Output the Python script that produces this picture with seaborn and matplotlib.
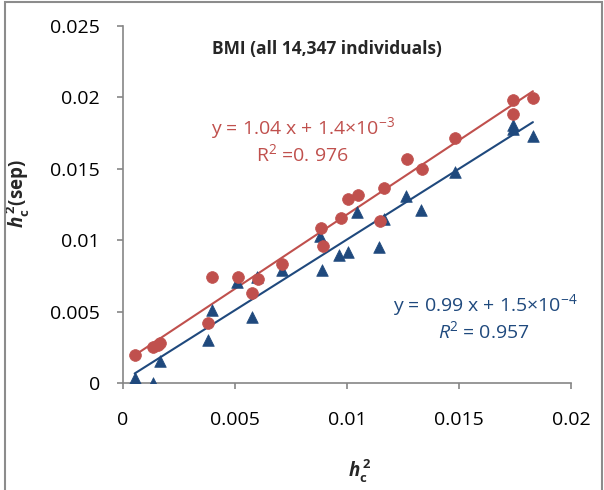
import numpy as np
import pandas as pd
import seaborn as sns
import matplotlib.pyplot as plt
from matplotlib.patches import Rectangle

# values
red_x = [0.00055, 0.00134, 0.00155, 0.00167, 0.0038, 0.00397, 0.00514, 0.00576,
         0.00602, 0.0071, 0.00882, 0.00894, 0.00972, 0.01004, 0.01049, 0.01147,
         0.01166, 0.01267, 0.01334, 0.01484, 0.01742, 0.01742, 0.0183]
red_y = [0.00196, 0.00255, 0.00269, 0.00278, 0.0042, 0.0074, 0.0074, 0.0063,
         0.0073, 0.00834, 0.01084, 0.0096, 0.01157, 0.0129, 0.01318, 0.01133,
         0.01367, 0.0157, 0.015, 0.01715, 0.01984, 0.01883, 0.01998]

blue_x = [0.00052, 0.00132, 0.00165, 0.00378, 0.00396, 0.0051, 0.00576, 0.00597,
          0.0071, 0.0088, 0.00889, 0.00966, 0.01006, 0.01044, 0.01142, 0.01166,
          0.01262, 0.01331, 0.01484, 0.01739, 0.01739, 0.0183]
blue_y = [0.00035, 0.0, 0.00152, 0.003, 0.0051, 0.0071, 0.00465, 0.0074,
          0.0079, 0.01026, 0.0079, 0.00895, 0.00916, 0.01196, 0.0095, 0.0115,
          0.01308, 0.01208, 0.01477, 0.01804, 0.0178, 0.01729]

# fitted lines as given on the chart
red_slope, red_icept = 1.04, 1.4e-3
blue_slope, blue_icept = 0.99, 1.5e-4

x_ticks = [0, 0.005, 0.01, 0.015, 0.02]
y_ticks = [0, 0.005, 0.01, 0.015, 0.02, 0.025]
x_tick_labels = ['0', '0.005', '0.01', '0.015', '0.02']
y_tick_labels = ['0', '0.005', '0.01', '0.015', '0.02', '0.025']

RED = '#C0504D'
BLUE = '#1F497D'
GREY = '#868686'

sns.set_theme(style='white')
plt.rcParams['font.family'] = ['Open Sans', 'DejaVu Sans']
plt.rcParams['mathtext.fontset'] = 'custom'
plt.rcParams['mathtext.rm'] = 'Open Sans'
plt.rcParams['mathtext.it'] = 'Open Sans:italic:bold'
plt.rcParams['mathtext.bf'] = 'Open Sans:bold'
plt.rcParams['mathtext.sf'] = 'Open Sans:italic'

fig = plt.figure(figsize=(6.04, 4.9), dpi=100)
ax = fig.add_axes([123 / 604, 1 - 383 / 490, 448 / 604, 357 / 490])

red_df = pd.DataFrame({'x': red_x, 'y': red_y})
blue_df = pd.DataFrame({'x': blue_x, 'y': blue_y})

# trend lines
rx = np.array([min(red_x), max(red_x)])
bx = np.array([min(blue_x), max(blue_x)])
sns.lineplot(x=rx, y=red_slope * rx + red_icept, color=RED, lw=1.5, ax=ax)
sns.lineplot(x=bx, y=blue_slope * bx + blue_icept, color=BLUE, lw=1.5, ax=ax)

# points
sns.scatterplot(data=blue_df, x='x', y='y', marker='^', s=70, color=BLUE,
                edgecolor=BLUE, linewidth=0.5, ax=ax, zorder=3)
sns.scatterplot(data=red_df, x='x', y='y', marker='o', s=72, color=RED,
                edgecolor=RED, linewidth=0.5, ax=ax, zorder=3)

ax.set_xlim(0, 0.02)
ax.set_ylim(0, 0.025)
ax.set_xticks(x_ticks)
ax.set_xticklabels(x_tick_labels)
ax.set_yticks(y_ticks)
ax.set_yticklabels(y_tick_labels)

for s in ['top', 'right']:
    ax.spines[s].set_visible(False)
for s in ['left', 'bottom']:
    ax.spines[s].set_color(GREY)
    ax.spines[s].set_linewidth(1.2)
ax.spines['left'].set_zorder(0.5)
ax.spines['bottom'].set_zorder(0.5)

ax.tick_params(axis='both', direction='out', length=4.5, width=1.2, color=GREY,
               labelsize=14, labelcolor='black')
ax.tick_params(axis='x', pad=16)
ax.tick_params(axis='y', pad=12)
ax.tick_params(left=True, bottom=True)

ax.set_xlabel(r'$\mathit{h}_{\mathbf{c}}^{\mathbf{\,2}}$', fontsize=13.5, fontweight='bold')
ax.set_ylabel(r'$\mathit{h}_{\mathbf{c}}^{\mathbf{\,2}}$(sep)', fontsize=13.5, fontweight='bold')
ax.xaxis.set_label_coords(0.529, -0.207)
ax.yaxis.set_label_coords(-0.205, 0.532)

ax.text(0.455, 0.936, 'BMI (all 14,347 individuals)', transform=ax.transAxes,
        ha='center', va='center', fontsize=12.5, fontweight='bold')

ax.text(0.402, 0.713, 'y = 1.04 x + 1.4×10$^{-3}$', transform=ax.transAxes,
        ha='center', va='center', fontsize=14, color=RED)
ax.text(0.400, 0.640, 'R$^{2}$ =0. 976', transform=ax.transAxes,
        ha='center', va='center', fontsize=14, color=RED)
ax.text(0.808, 0.216, 'y = 0.99 x + 1.5×10$^{-4}$', transform=ax.transAxes,
        ha='center', va='center', fontsize=14, color=BLUE)
ax.text(0.806, 0.143, r'$\mathsf{R}^{2}$ = 0.957', transform=ax.transAxes,
        ha='center', va='center', fontsize=14, color=BLUE)

# outer frame of the chart area
fig.patches.append(Rectangle((5 / 604, -0.05), 597 / 604, 1.05 - 2 / 490,
                             transform=fig.transFigure, fill=False,
                             edgecolor='#8C8C8C', lw=1.5))

fig.savefig('out.png', dpi=100)
